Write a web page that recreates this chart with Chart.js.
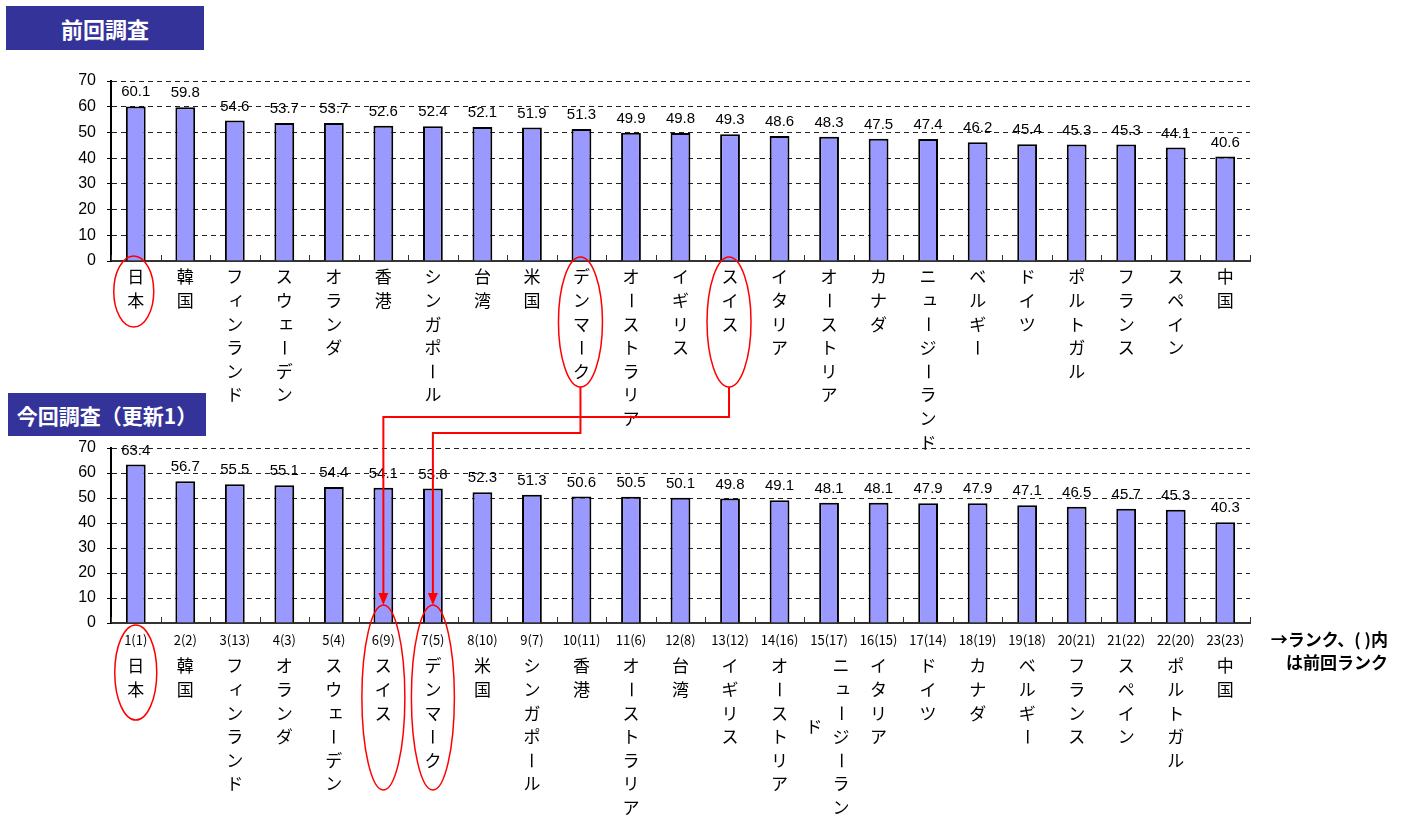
<!DOCTYPE html>
<html lang="ja">
<head>
<meta charset="utf-8">
<title>調査スコア ランキング</title>
<script src="https://cdn.jsdelivr.net/npm/chart.js@4.4.1/dist/chart.umd.min.js"></script>
<style>
  html, body { margin: 0; padding: 0; background: #fff; }
  body { width: 1405px; height: 816px; position: relative; overflow: hidden;
         font-family: "Noto Sans CJK JP", "Liberation Sans", sans-serif; }
  canvas { position: absolute; left: 0; }
  #chartPrev { top: 0; }
  #chartCurr { top: 400px; }
  #marks { top: 0; pointer-events: none; z-index: 5; }
  .title-box { position: absolute; background: #333399; color: #fff; font-weight: bold;
               display: flex; align-items: center; justify-content: center; z-index: 2; }
  #titlePrev { left: 6px; top: 6px; width: 198px; height: 44px; font-size: 22px; }
  #titleCurr { left: 8px; top: 393px; width: 198px; height: 43px; font-size: 21px; }
  #rankNote { position: absolute; right: 17px; top: 627px; font-size: 17px; font-weight: bold;
              line-height: 23px; text-align: right; color: #000; }
</style>
</head>
<body>
<div class="title-box" id="titlePrev">前回調査</div>
<canvas id="chartPrev" width="1405" height="460"></canvas>
<canvas id="chartCurr" width="1405" height="416"></canvas>
<div class="title-box" id="titleCurr">今回調査（更新1）</div>
<div id="rankNote">→ランク、( )内<br>は前回ランク</div>
<canvas id="marks" width="1405" height="816"></canvas>

<script>
// ---- data ----
const prevCountries = ['日本','韓国','フィンランド','スウェーデン','オランダ','香港','シンガポール','台湾','米国','デンマーク','オーストラリア','イギリス','スイス','イタリア','オーストリア','カナダ','ニュージーランド','ベルギー','ドイツ','ポルトガル','フランス','スペイン','中国'];
const prevScores = [60.1, 59.8, 54.6, 53.7, 53.7, 52.6, 52.4, 52.1, 51.9, 51.3, 49.9, 49.8, 49.3, 48.6, 48.3, 47.5, 47.4, 46.2, 45.4, 45.3, 45.3, 44.1, 40.6];

const currCountries = ['日本','韓国','フィンランド','オランダ','スウェーデン','スイス','デンマーク','米国','シンガポール','香港','オーストラリア','台湾','イギリス','オーストリア','ニュージーランド','イタリア','ドイツ','カナダ','ベルギー','フランス','スペイン','ポルトガル','中国'];
const currScores = [63.4, 56.7, 55.5, 55.1, 54.4, 54.1, 53.8, 52.3, 51.3, 50.6, 50.5, 50.1, 49.8, 49.1, 48.1, 48.1, 47.9, 47.9, 47.1, 46.5, 45.7, 45.3, 40.3];
const currRanks = ['1(1)','2(2)','3(13)','4(3)','5(4)','6(9)','7(5)','8(10)','9(7)','10(11)','11(6)','12(8)','13(12)','14(16)','15(17)','16(15)','17(14)','18(19)','19(18)','20(21)','21(22)','22(20)','23(23)'];

const scoreTicks = [0, 10, 20, 30, 40, 50, 60, 70];

// ---- plugins ----
const SMALL_KANA = 'ァィゥェォャュョ';

function drawColumn(ctx, chars, x, y0, step) {
  chars.forEach((ch, k) => {
    const y = y0 + k * step;
    if (ch === 'ー') {
      // long vowel mark turns upright in vertical writing
      ctx.save();
      ctx.translate(x, y);
      ctx.rotate(Math.PI / 2);
      ctx.fillText(ch, 0, 0);
      ctx.restore();
    } else if (SMALL_KANA.includes(ch)) {
      ctx.fillText(ch, x + 2, y - 2);
    } else {
      ctx.fillText(ch, x, y);
    }
  });
}

// country names written top-to-bottom under each bar
const verticalNames = {
  id: 'verticalNames',
  afterDraw(chart, args, opts) {
    const { ctx, scales: { x } } = chart;
    ctx.save();
    ctx.font = '17px "Noto Sans CJK JP"';
    ctx.fillStyle = '#000';
    ctx.textAlign = 'center';
    ctx.textBaseline = 'middle';
    chart.data.labels.forEach((name, i) => {
      const cx = x.getPixelForValue(i);
      const chars = Array.from(name);
      if (chars.length <= opts.maxRows) {
        drawColumn(ctx, chars, cx, opts.firstRow, opts.rowStep);
      } else {
        drawColumn(ctx, chars.slice(0, opts.maxRows), cx + 12, opts.firstRow, opts.rowStep);
        drawColumn(ctx, chars.slice(opts.maxRows), cx - 15, opts.firstRow + opts.wrapDrop, opts.rowStep);
      }
    });
    ctx.restore();
  }
};

// value printed above every bar
const valueLabels = {
  id: 'valueLabels',
  afterDatasetsDraw(chart) {
    const { ctx } = chart;
    const meta = chart.getDatasetMeta(0);
    const values = chart.data.datasets[0].data;
    ctx.save();
    ctx.font = '15px "Liberation Sans"';
    ctx.fillStyle = '#000';
    ctx.textAlign = 'center';
    ctx.textBaseline = 'alphabetic';
    meta.data.forEach((bar, i) => {
      ctx.fillText(values[i].toFixed(1), bar.x, bar.y - 10);
    });
    ctx.restore();
  }
};

// short tick marks on the category boundaries, pointing into the plot
const innerTicks = {
  id: 'innerTicks',
  afterDatasetsDraw(chart) {
    const { ctx, chartArea, scales: { x } } = chart;
    const n = chart.data.labels.length;
    const half = (x.getPixelForValue(1) - x.getPixelForValue(0)) / 2;
    ctx.save();
    ctx.strokeStyle = '#333';
    ctx.lineWidth = 1;
    ctx.beginPath();
    for (let i = 0; i <= n; i++) {
      const px = Math.round(i < n ? x.getPixelForValue(i) - half : x.getPixelForValue(n - 1) + half) + 0.5;
      ctx.moveTo(px, chartArea.bottom);
      ctx.lineTo(px, chartArea.bottom - 6);
    }
    ctx.stroke();
    ctx.restore();
  }
};

function makeChart(canvasId, labels, values, cfg) {
  return new Chart(document.getElementById(canvasId), {
    type: 'bar',
    data: {
      labels: labels,
      datasets: [{
        data: values,
        backgroundColor: '#9999FF',
        borderColor: '#000',
        borderWidth: 2,
        barPercentage: 0.4,
        categoryPercentage: 1.0
      }]
    },
    options: {
      responsive: false,
      animation: false,
      events: [],
      layout: { padding: { left: 0, right: 155, top: cfg.padTop, bottom: 0 } },
      plugins: {
        legend: { display: false },
        tooltip: { enabled: false },
        verticalNames: cfg.names
      },
      scales: {
        x: {
          grid: { display: false },
          border: { display: true, color: '#333', width: 2 },
          ticks: {
            display: !!cfg.tickText,
            autoSkip: false,
            maxRotation: 0,
            minRotation: 0,
            padding: 1,
            color: '#000',
            font: { family: '"Noto Sans CJK JP"', size: 13 },
            callback: (v, i) => cfg.tickText ? cfg.tickText[i] : ''
          },
          afterFit(scale) { scale.height = cfg.axisHeight; }
        },
        y: {
          min: scoreTicks[0],
          max: scoreTicks[scoreTicks.length - 1],
          ticks: {
            stepSize: scoreTicks[1] - scoreTicks[0],
            color: '#000',
            padding: 11,
            font: { family: '"Liberation Sans"', size: 16 }
          },
          grid: {
            color: '#222',
            lineWidth: 1,
            drawTicks: true,
            tickLength: 4,
            tickColor: '#000',
            tickBorderDash: []
          },
          border: { display: true, color: '#000', width: 2, dash: [5, 4] },
          afterFit(scale) { scale.width = 111; }
        }
      }
    },
    plugins: [innerTicks, valueLabels, verticalNames]
  });
}

const chartPrev = makeChart('chartPrev', prevCountries, prevScores, {
  padTop: 81,
  axisHeight: 199,
  names: { firstRow: 277, rowStep: 23.6, maxRows: 9, wrapDrop: 0 }
});

const chartCurr = makeChart('chartCurr', currCountries, currScores, {
  padTop: 48,
  axisHeight: 193,
  tickText: currRanks,
  names: { firstRow: 266, rowStep: 23.6, maxRows: 7, wrapDrop: 61 }
});

// ---- red highlights: circled names and the moves between surveys ----
function drawMarks() {
  const canvas = document.getElementById('marks');
  const ctx = canvas.getContext('2d');
  const prevTop = 0, currTop = 400;
  const px = name => chartPrev.scales.x.getPixelForValue(prevCountries.indexOf(name));
  const cx = name => chartCurr.scales.x.getPixelForValue(currCountries.indexOf(name));

  ctx.strokeStyle = '#FF0000';
  ctx.fillStyle = '#FF0000';

  function ring(x, yTop, yBottom, rx) {
    ctx.beginPath();
    ctx.lineWidth = 1.5;
    ctx.ellipse(x, (yTop + yBottom) / 2, rx, (yBottom - yTop) / 2, 0, 0, Math.PI * 2);
    ctx.stroke();
  }

  function connector(x1, y1, yMid, x2, yTip) {
    ctx.beginPath();
    ctx.lineWidth = 2;
    ctx.moveTo(x1, y1);
    ctx.lineTo(x1, yMid);
    ctx.lineTo(x2, yMid);
    ctx.lineTo(x2, yTip - 10);
    ctx.stroke();
    ctx.beginPath();
    ctx.moveTo(x2, yTip);
    ctx.lineTo(x2 - 5, yTip - 12);
    ctx.lineTo(x2 + 5, yTip - 12);
    ctx.closePath();
    ctx.fill();
  }

  // previous survey
  ring(px('日本') - 2, prevTop + 256, prevTop + 327, 20);
  ring(px('デンマーク') - 1, prevTop + 257, prevTop + 387, 22);
  ring(px('スイス') - 1, prevTop + 257, prevTop + 387, 22);

  // current survey
  ring(cx('日本'), currTop + 225, currTop + 320, 21);
  ring(cx('スイス'), currTop + 205, currTop + 390, 21.5);
  ring(cx('デンマーク'), currTop + 205, currTop + 390, 21.5);

  connector(px('デンマーク') - 1, prevTop + 387, 433, cx('デンマーク'), currTop + 205);
  connector(px('スイス') - 1, prevTop + 387, 417, cx('スイス'), currTop + 205);
}
drawMarks();
</script>
</body>
</html>
